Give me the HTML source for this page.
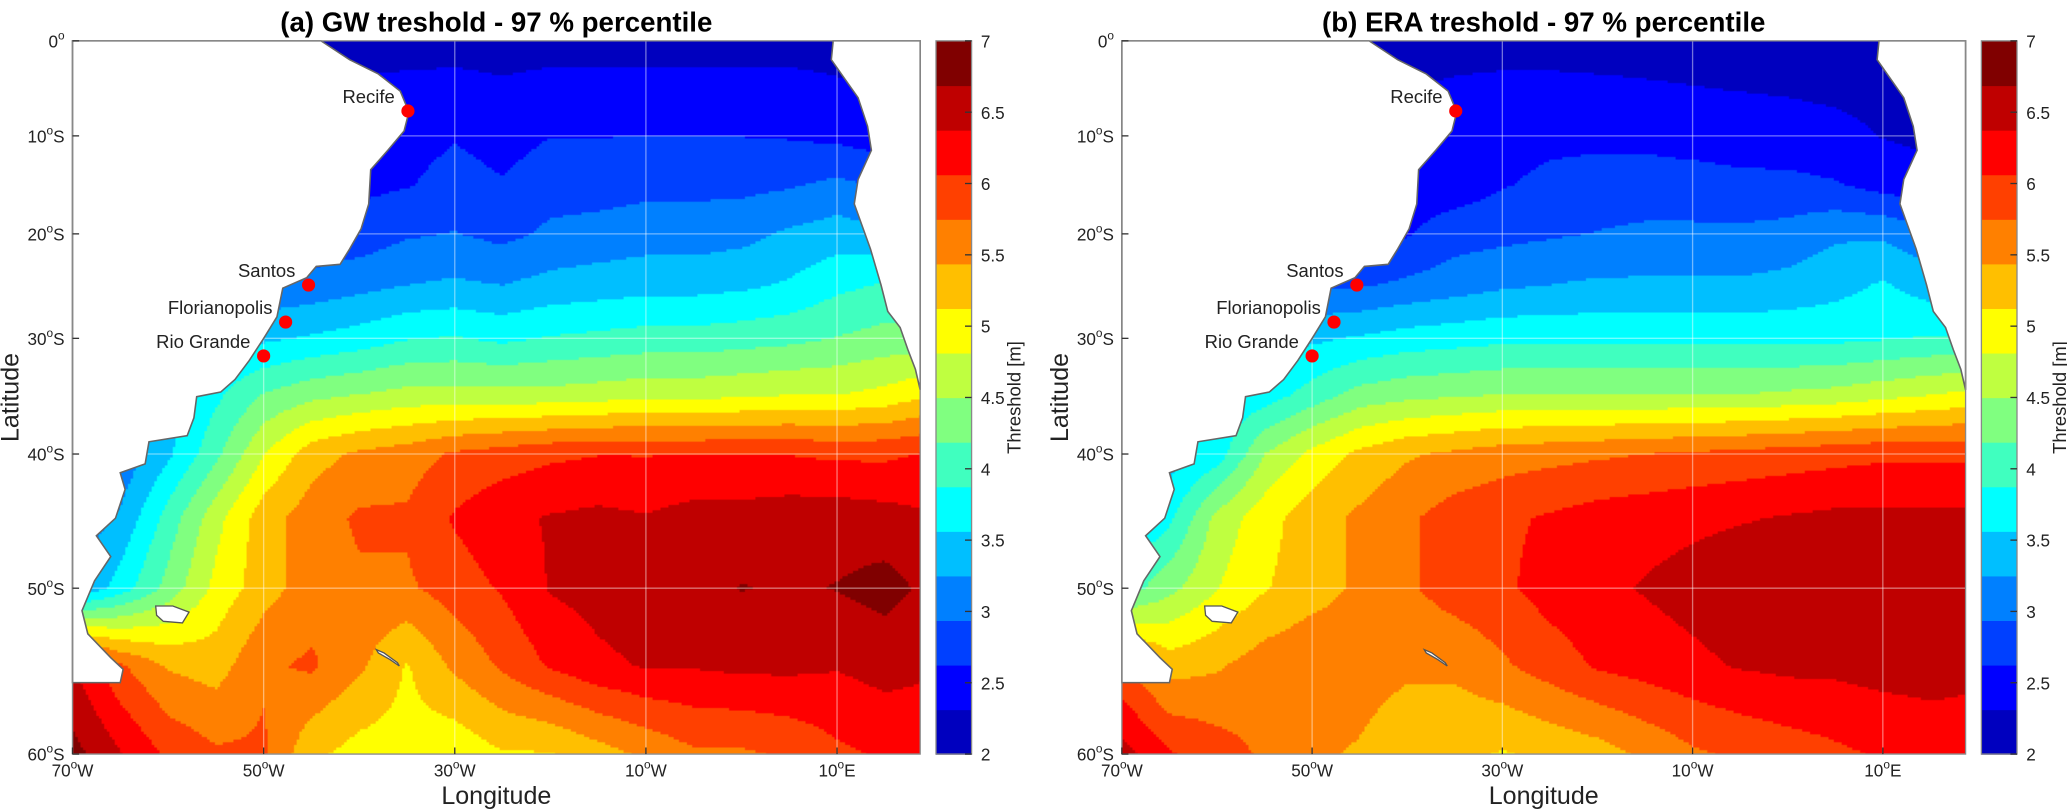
<!DOCTYPE html>
<html><head><meta charset="utf-8">
<style>
html,body{margin:0;padding:0;background:#fff;}
body{width:2067px;height:812px;position:relative;overflow:hidden;font-family:"Liberation Sans",sans-serif;}
#wrap{position:absolute;left:0;top:0;width:1568px;height:616px;transform:scale(1.3183);transform-origin:0 0;}
canvas{position:absolute;}
svg{position:absolute;left:0;top:0;}
</style></head>
<body>
<div id="wrap">
<canvas id="mapA" width="643" height="541" style="left:55px;top:31px"></canvas>
<canvas id="mapB" width="640" height="541" style="left:851px;top:31px"></canvas>
<svg id="ov" width="1568" height="616"></svg>
</div>
<script>
// ---- data ----
const lonGrid=[-70,-65,-60,-55,-50,-45,-40,-35,-30,-25,-20,-15,-10,-5,0,5,10,15,20];
const latGrid=[0,-5,-10,-15,-20,-25,-30,-35,-40,-45,-50,-55,-60];
const gwValues=[
[2.2,2.2,2.2,2.2,2.2,2.2,2.2,2.2,2.2,2.2,2.2,2.2,2.2,2.2,2.2,2.2,2.2,2.2,2.2],
[2.35,2.35,2.35,2.35,2.35,2.35,2.35,2.38,2.4,2.35,2.4,2.4,2.4,2.4,2.4,2.4,2.35,2.3,2.3],
[2.45,2.45,2.45,2.45,2.45,2.45,2.45,2.5,2.6,2.5,2.62,2.62,2.62,2.62,2.62,2.6,2.55,2.45,2.4],
[2.55,2.55,2.55,2.55,2.55,2.55,2.55,2.6,2.75,2.65,2.8,2.8,2.85,2.85,2.85,2.9,3.0,2.9,2.8],
[2.7,2.7,2.7,2.7,2.7,2.7,2.75,2.9,2.95,2.85,3.0,3.05,3.1,3.1,3.15,3.3,3.4,3.3,3.2],
[3.0,3.0,3.0,3.0,3.0,3.05,3.15,3.25,3.3,3.25,3.35,3.4,3.45,3.45,3.5,3.6,3.8,3.9,3.8],
[3.5,3.5,3.5,3.5,3.5,3.6,3.7,3.85,3.9,3.8,3.9,3.95,4.0,4.0,4.05,4.1,4.2,4.3,4.3],
[3.7,3.5,3.4,3.8,4.2,4.4,4.5,4.6,4.6,4.6,4.6,4.65,4.7,4.7,4.75,4.8,4.8,4.9,5.1],
[3.0,3.0,3.5,4.1,4.8,5.3,5.5,5.6,5.8,5.9,6.0,6.05,6.05,6.05,6.05,6.05,6.0,6.0,6.1],
[3.0,3.3,4.0,4.7,5.3,5.6,5.8,5.8,6.1,6.3,6.4,6.45,6.4,6.5,6.5,6.55,6.55,6.5,6.4],
[3.2,3.7,4.3,4.9,5.3,5.6,5.7,5.7,5.9,6.1,6.4,6.5,6.6,6.6,6.7,6.65,6.7,6.8,6.6],
[6.4,5.8,5.4,5.3,5.7,5.8,5.5,5.1,5.5,5.8,6.1,6.3,6.4,6.4,6.45,6.45,6.4,6.5,6.4],
[6.8,6.4,6.0,5.8,5.8,5.2,5.0,5.0,4.9,5.1,5.1,5.3,5.5,5.7,5.7,5.8,6.0,6.1,6.2]];
const eraValues=[
[2.2,2.2,2.2,2.2,2.2,2.2,2.2,2.2,2.2,2.2,2.2,2.2,2.2,2.2,2.2,2.2,2.2,2.2,2.2],
[2.3,2.3,2.3,2.3,2.3,2.3,2.3,2.35,2.38,2.38,2.36,2.34,2.32,2.3,2.28,2.25,2.22,2.2,2.2],
[2.4,2.4,2.4,2.4,2.4,2.4,2.4,2.4,2.5,2.55,2.55,2.55,2.5,2.48,2.45,2.4,2.3,2.25,2.25],
[2.45,2.45,2.45,2.45,2.45,2.45,2.45,2.45,2.6,2.7,2.75,2.75,2.75,2.7,2.7,2.65,2.5,2.4,2.4],
[2.5,2.5,2.5,2.5,2.5,2.5,2.6,2.8,2.85,2.9,2.95,3.0,3.0,3.0,3.05,3.2,3.2,3.0,3.0],
[2.9,2.9,2.9,2.9,2.9,2.9,3.0,3.1,3.2,3.25,3.3,3.3,3.3,3.3,3.35,3.45,3.6,3.4,3.4],
[3.5,3.5,3.5,3.5,3.5,3.6,3.7,3.75,3.8,3.8,3.8,3.8,3.8,3.8,3.8,3.8,3.85,3.9,3.9],
[3.6,3.6,3.6,3.7,4.0,4.3,4.4,4.45,4.5,4.5,4.5,4.5,4.5,4.5,4.55,4.6,4.7,4.8,4.9],
[3.4,3.4,3.7,4.5,4.9,5.2,5.4,5.5,5.6,5.65,5.7,5.75,5.8,5.85,5.9,5.95,6.0,6.0,6.0],
[3.4,3.8,4.6,5.0,5.3,5.5,5.7,5.9,6.0,6.1,6.2,6.25,6.3,6.35,6.4,6.45,6.45,6.45,6.45],
[4.0,4.4,4.8,5.1,5.3,5.5,5.7,5.9,6.0,6.2,6.3,6.4,6.5,6.6,6.6,6.6,6.6,6.6,6.6],
[5.8,5.3,5.4,5.6,5.7,5.6,5.5,5.5,5.7,5.9,6.1,6.2,6.3,6.4,6.45,6.45,6.5,6.5,6.45],
[6.5,6.1,5.9,5.7,5.5,5.4,5.2,5.2,5.1,5.2,5.3,5.5,5.7,5.8,5.9,6.0,6.1,6.2,6.2]];
const cbTicks=[2,2.5,3,3.5,4,4.5,5,5.5,6,6.5,7];
const latTicks=[0,-10,-20,-30,-40,-50,-60];
const latTickLabels=["0","10","20","30","40","50","60"];
const lonTicks=[-70,-50,-30,-10,10];
const lonTickLabels=["70","50","30","10","10"];
const cities=["Recife","Santos","Florianopolis","Rio Grande"];
const cityLon=[-34.9,-45.3,-47.7,-50.0];
const cityLat=[-7.4,-25.0,-28.5,-31.6];
const saCoast=[[-44,0],[-41,-2],[-38,-3.5],[-35.7,-5.3],[-34.8,-7.5],[-35.3,-9.5],[-37,-11.5],[-38.8,-13.5],[-39,-17],[-39.8,-19.5],[-41,-21.5],[-42,-23],[-44.5,-23.2],[-45.5,-24.3],[-48,-25.3],[-48.6,-28],[-50,-30],[-51.5,-32],[-53,-33.7],[-54.5,-34.8],[-57,-35.2],[-57.3,-37],[-58,-38.5],[-62,-39],[-62.4,-40.8],[-65,-41.5],[-64.5,-42.8],[-65.5,-45],[-67.5,-46.3],[-66,-47.8],[-67.7,-49.5],[-69,-51.5],[-68.4,-53],[-66,-54.5],[-64.7,-55.2],[-65,-56],[-70,-56]];
const afCoast=[[9.6,0],[9.4,-2],[10.8,-4],[12.2,-6],[13.2,-9],[13.6,-11.5],[12.2,-14.5],[11.8,-17],[13.5,-21.5],[14.6,-25],[15.3,-27.5],[16.6,-29],[17.4,-31],[18.2,-32.8],[18.7,-34.6]];
const falklands=[[-61.3,-51.2],[-59.5,-51.2],[-57.8,-51.6],[-58.5,-52.3],[-60.5,-52.2],[-61.2,-51.8]];
const sgeorgia=[[-38.2,-54.0],[-37.4,-54.2],[-36,-54.8],[-35.8,-55.0],[-36.8,-54.6],[-38.0,-54.2]];
const jet16=["#0000bf","#0000ff","#0040ff","#0080ff","#00bfff","#00ffff","#40ffbf","#80ff80","#bfff40","#ffff00","#ffbf00","#ff8000","#ff4000","#ff0000","#bf0000","#800000"];

// ---- geometry ----
const LON0=-70,LON1=18.7,MERC60=Math.log(Math.tan(Math.PI/4+60*Math.PI/360));
function panel(x0,w){return{x0:x0,w:w,y0:31,h:541};}
const PA=panel(55,643),PB=panel(851,640);
function xOf(p,lon){return p.x0+(lon-LON0)/(LON1-LON0)*p.w;}
function yOf(p,lat){const m=Math.log(Math.tan(Math.PI/4+(-lat)*Math.PI/360));return p.y0+m/MERC60*p.h;}
function latOfY(p,y){const m=(y-p.y0)/p.h*MERC60;return -(2*Math.atan(Math.exp(m))-Math.PI/2)*180/Math.PI;}
function lonOfX(p,x){return LON0+(x-p.x0)/p.w*(LON1-LON0);}
function sample(vals,lon,lat){
  let fi=(lon-lonGrid[0])/5, fj=(latGrid[0]-lat)/5;
  fi=Math.max(0,Math.min(lonGrid.length-1.0001,fi)); fj=Math.max(0,Math.min(latGrid.length-1.0001,fj));
  const i=Math.floor(fi),j=Math.floor(fj),a=fi-i,b=fj-j;
  return vals[j][i]*(1-a)*(1-b)+vals[j][i+1]*a*(1-b)+vals[j+1][i]*(1-a)*b+vals[j+1][i+1]*a*b;
}
function colorOf(v){let k=Math.floor((v-2)/5*16);k=Math.max(0,Math.min(15,k));return jet16[k];}
function drawMap(id,p,vals){
  const c=document.getElementById(id).getContext('2d');const s=2;
  for(let y=0;y<p.h;y+=s){const lat=latOfY(p,p.y0+y+s/2);
    for(let x=0;x<p.w;x+=s){const lon=lonOfX(p,p.x0+x+s/2);
      c.fillStyle=colorOf(sample(vals,lon,lat));c.fillRect(x,y,s,s);}}
}
drawMap('mapA',PA,gwValues);drawMap('mapB',PB,eraValues);

// ---- overlay ----
const NS='http://www.w3.org/2000/svg';const ov=document.getElementById('ov');
function mk(tag,attrs,parent){const e=document.createElementNS(NS,tag);for(const k in attrs)e.setAttribute(k,attrs[k]);(parent||ov).appendChild(e);return e;}
function poly(p,pts){return pts.map(q=>xOf(p,q[0]).toFixed(1)+','+yOf(p,q[1]).toFixed(1)).join(' ');}
function drawPanel(p,title,cbx,tag){
  const g=mk('g',{});
  
  
  lonTicks.forEach(l=>{const x=xOf(p,l);const ln=mk('line',{x1:x,x2:x,y1:p.y0,y2:p.y0+p.h,stroke:'rgba(255,255,255,0.45)','stroke-width':1},g);
    });
  latTicks.forEach(l=>{const y=yOf(p,l);const ln=mk('line',{x1:p.x0,x2:p.x0+p.w,y1:y,y2:y,stroke:'rgba(255,255,255,0.45)','stroke-width':1},g);
    });
  const sa=[...saCoast,[-70,0]];
  const land=mk('polygon',{points:poly(p,sa),fill:'#fff',stroke:'#666','stroke-width':1.2},g);
  
  const af=[...afCoast,[LON1,-34.6],[LON1,0]];
  const afr=mk('polygon',{points:poly(p,af),fill:'#fff',stroke:'#666','stroke-width':1.2},g);
  
  [falklands,sgeorgia].forEach(is=>{const e=mk('polygon',{points:poly(p,is),fill:'#fff',stroke:'#555','stroke-width':1},g);
    });
  const fr=mk('rect',{x:p.x0,y:p.y0,width:p.w,height:p.h,fill:'none',stroke:'#888','stroke-width':1},g);
  
  cities.forEach((n,i)=>{const x=xOf(p,cityLon[i]),y=yOf(p,cityLat[i]);
    const d=mk('circle',{cx:x,cy:y,r:5,fill:'#ff0000'},g);
    const t=mk('text',{x:x-10,y:y-6,'text-anchor':'end','font-size':14,fill:'#222'},g);t.textContent=n;
    });
  latTicks.forEach((l,i)=>{const y=yOf(p,l);
    mk('line',{x1:p.x0,x2:p.x0+5,y1:y,y2:y,stroke:'#333'},g);
    const t=mk('text',{x:p.x0-6,y:y+5,'text-anchor':'end','font-size':13,fill:'#222'},g);
    t.innerHTML=latTickLabels[i]+'<tspan dy="-6" font-size="9">o</tspan><tspan dy="6">'+(l===0?'':'S')+'</tspan>';
    });
  lonTicks.forEach((l,i)=>{const x=xOf(p,l);
    mk('line',{x1:x,x2:x,y1:p.y0+p.h,y2:p.y0+p.h-5,stroke:'#333'},g);
    const t=mk('text',{x:x,y:p.y0+p.h+17,'text-anchor':'middle','font-size':13,fill:'#222'},g);
    t.innerHTML=lonTickLabels[i]+'<tspan dy="-6" font-size="9">o</tspan><tspan dy="6">'+(l<0?'W':'E')+'</tspan>';
    });
  const tt=mk('text',{x:p.x0+p.w/2,y:24,'text-anchor':'middle','font-size':21,'font-weight':'bold',fill:'#000'},g);
  tt.textContent=title;
  const xl=mk('text',{x:p.x0+p.w/2,y:610,'text-anchor':'middle','font-size':19,fill:'#222'},g);
  xl.textContent='Longitude';
  const yx=p.x0-41,yy=p.y0+p.h/2;
  const yl=mk('text',{x:yx,y:yy,'text-anchor':'middle','font-size':19,fill:'#222',transform:'rotate(-90 '+yx+' '+yy+')'},g);
  yl.textContent='Latitude';
  const cb=mk('g',{},g);
  const bh=p.h/16;
  jet16.forEach((c,k)=>{const r=mk('rect',{x:cbx,y:p.y0+p.h-(k+1)*bh,width:27,height:bh+0.5,fill:c},cb);
    });
  mk('rect',{x:cbx,y:p.y0,width:27,height:p.h,fill:'none',stroke:'#888'},cb);
  cbTicks.forEach(v=>{const y=p.y0+p.h-(v-2)/5*p.h;
    mk('line',{x1:cbx+22,x2:cbx+27,y1:y,y2:y,stroke:'#333'},cb);
    const t=mk('text',{x:cbx+34,y:y+5,'font-size':13,fill:'#222'},cb);t.textContent=String(v);
    });
  const cx=cbx+64,cy=p.y0+p.h/2;
  const cl=mk('text',{x:cx,y:cy,'text-anchor':'middle','font-size':14,fill:'#222',transform:'rotate(-90 '+cx+' '+cy+')'},cb);
  cl.textContent='Threshold [m]';
}
drawPanel(PA,'(a) GW treshold - 97 % percentile',710,'gw');
drawPanel(PB,'(b) ERA treshold - 97 % percentile',1503,'era');
</script>
</body></html>
